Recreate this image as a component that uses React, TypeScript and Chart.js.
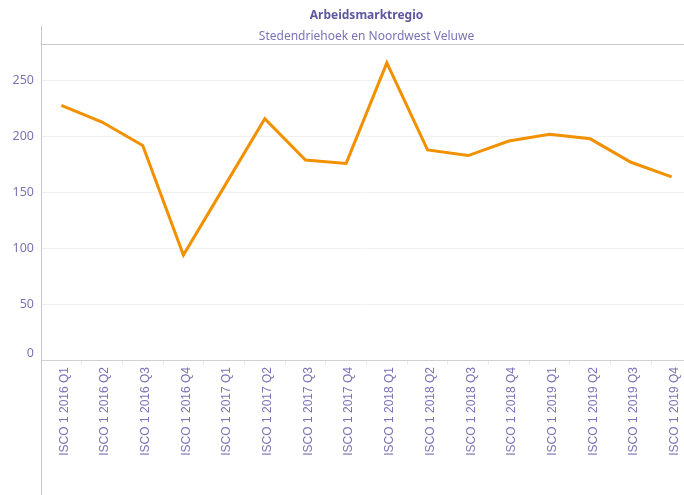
import React, { useEffect, useRef } from "react";
import { Chart, registerables } from "chart.js";

Chart.register(...registerables);

const categories = [
  "ISCO 1 2016 Q1", "ISCO 1 2016 Q2", "ISCO 1 2016 Q3", "ISCO 1 2016 Q4",
  "ISCO 1 2017 Q1", "ISCO 1 2017 Q2", "ISCO 1 2017 Q3", "ISCO 1 2017 Q4",
  "ISCO 1 2018 Q1", "ISCO 1 2018 Q2", "ISCO 1 2018 Q3", "ISCO 1 2018 Q4",
  "ISCO 1 2019 Q1", "ISCO 1 2019 Q2", "ISCO 1 2019 Q3", "ISCO 1 2019 Q4",
];
const values = [228, 213, 192, 94, 155, 216, 179, 176, 266, 188, 183, 196, 202, 198, 177, 164];
const yTicks = [0, 50, 100, 150, 200, 250];
const title = "Arbeidsmarktregio";
const subtitle = "Stedendriehoek en Noordwest Veluwe";

const TEXT = "#7a72b6";
const TITLE = "#5e56a0";

const decorPlugin = {
  id: "decor",
  afterDraw(chart: any) {
    const { ctx, chartArea } = chart;
    ctx.save();
    ctx.strokeStyle = "#c8c8c8";
    ctx.lineWidth = 1;
    ctx.beginPath();
    ctx.moveTo(chartArea.left + 0.5, 26);
    ctx.lineTo(chartArea.left + 0.5, chart.height);
    ctx.moveTo(chartArea.left, 44.5);
    ctx.lineTo(chart.width, 44.5);
    ctx.stroke();
    const cx = (chartArea.left + chartArea.right) / 2;
    ctx.textAlign = "center";
    ctx.textBaseline = "middle";
    ctx.fillStyle = TITLE;
    ctx.font = "bold 12px 'Noto Sans'";
    ctx.fillText(title, cx, 15.5);
    ctx.fillStyle = TEXT;
    ctx.font = "12px 'Noto Sans'";
    ctx.fillText(subtitle, cx, 36.5);
    // y-axis labels (bottom label kept above the baseline, as in the reference)
    const ys = chart.scales.y;
    ctx.textAlign = "right";
    ctx.font = "12.5px 'Noto Sans'";
    yTicks.forEach((v) => {
      let py = ys.getPixelForValue(v);
      if (v === 0) py -= 7;
      ctx.fillText(String(v), chartArea.left - 7, py);
    });
    ctx.restore();
  },
};

export default function App() {
  const ref = useRef<HTMLCanvasElement>(null);
  useEffect(() => {
    if (!ref.current) return;
    const chart = new Chart(ref.current, {
      type: "line",
      data: {
        labels: categories,
        datasets: [
          {
            data: values,
            borderColor: "#f29100",
            backgroundColor: "#f29100",
            borderWidth: 3,
            pointRadius: 0,
            tension: 0,
          },
        ],
      },
      options: {
        animation: false,
        responsive: false,
        layout: { padding: { top: 45, left: 0, right: 0, bottom: 0 } },
        plugins: { legend: { display: false }, tooltip: { enabled: false }, title: { display: false } },
        scales: {
          x: {
            type: "category",
            offset: true,
            grid: { offset: true, drawOnChartArea: false, drawTicks: true, tickLength: 5, color: "#ececec" },
            border: { display: false },
            ticks: {
              minRotation: 90,
              maxRotation: 90,
              autoSkip: false,
              padding: 2,
              labelOffset: 3,
              color: TEXT,
              font: { family: "'Liberation Sans', Arial, sans-serif", size: 12 },
            },
            afterFit: (s: any) => { s.height = 135; },
          },
          y: {
            min: 0,
            max: 282,
            grid: {
              drawTicks: false,
              color: (c: any) => (c.tick && c.tick.value === 0 ? "#d0d0d0" : "#f0f0f0"),
            },
            border: { display: false },
            ticks: { display: false },
            afterBuildTicks: (s: any) => {
              s.ticks = yTicks.map((v) => ({ value: v }));
            },
            afterFit: (s: any) => { s.width = 41; },
          },
        },
      },
      plugins: [decorPlugin],
    });
    return () => chart.destroy();
  }, []);
  return (
    <div style={{ position: "absolute", left: 0, top: 0, width: 684, height: 495, overflow: "hidden", background: "#fff" }}>
      <canvas ref={ref} width={692} height={495} style={{ display: "block" }} />
    </div>
  );
}
